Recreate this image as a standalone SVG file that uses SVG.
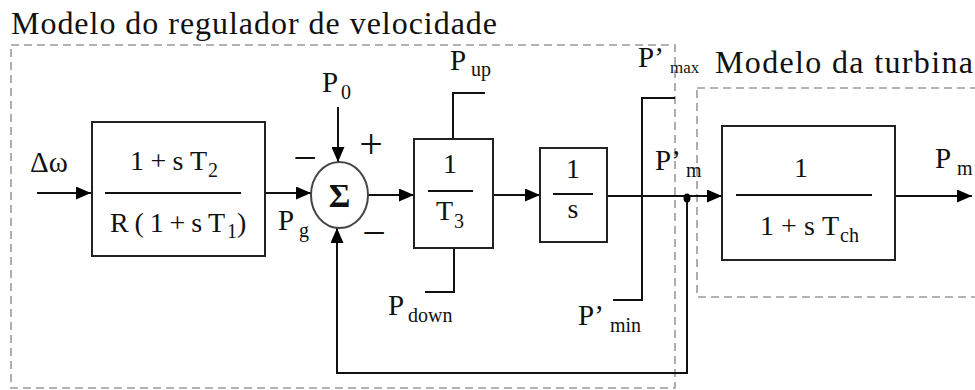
<svg xmlns="http://www.w3.org/2000/svg" width="975" height="390" viewBox="0 0 975 390">
<defs>
<marker id="arr" viewBox="0 0 15 13" markerWidth="15" markerHeight="13" refX="15" refY="6.5" orient="auto" markerUnits="userSpaceOnUse">
<path d="M0,0 L15,6.5 L0,13 z" fill="#000"/>
</marker>
</defs>
<rect width="975" height="390" fill="#fff"/>

<g id="regions" fill="none" stroke="#9a9a9a" stroke-width="1.6" stroke-dasharray="8 5">
<rect x="11" y="45" width="664" height="343"/>
<rect x="697" y="88" width="290" height="209"/>
</g>
<g id="titles" font-family="Liberation Serif" fill="#111">
<text x="11" y="34" font-size="32" textLength="486" lengthAdjust="spacing">Modelo do regulador de velocidade</text>
<text x="715" y="73" font-size="32" textLength="258" lengthAdjust="spacing">Modelo da turbina</text>
</g>

<g id="connectors" fill="none" stroke="#111" stroke-width="2">
<path d="M37,193 H91" marker-end="url(#arr)"/>
<path d="M265,193 H311" marker-end="url(#arr)"/>
<path d="M338,107 V162" marker-end="url(#arr)"/>
<path d="M368,195 H414" marker-end="url(#arr)"/>
<path d="M493,195 H540" marker-end="url(#arr)"/>
<path d="M607,196 H722" marker-end="url(#arr)"/>
<path d="M687,197 V373 H337 V228" marker-end="url(#arr)"/>
<path d="M895,196 H972" marker-end="url(#arr)"/>
<path d="M453,139 V93 H485"/>
<path d="M454,248 V292 H425"/>
<path d="M675,98 H642 V300 H613"/>
<ellipse cx="687" cy="198" rx="3.5" ry="4.5" fill="#000" stroke="none"/>
</g>

<g id="input-label" font-family="Liberation Serif" fill="#111">
<text x="30" y="172" font-size="29">Δω</text>
</g>

<g id="governor" font-family="Liberation Serif" fill="#111">
<rect x="92" y="122" width="173" height="134" fill="#fff" stroke="#222" stroke-width="2"/>
<line x1="105" y1="193" x2="241" y2="193" stroke="#111" stroke-width="2"/>
<text font-size="28"><tspan x="130" y="170" textLength="77" lengthAdjust="spacing">1+sT</tspan><tspan x="208" y="177" font-size="20">2</tspan></text>
<text font-size="28"><tspan x="110" y="232" textLength="115" lengthAdjust="spacing">R(1+sT</tspan><tspan x="227" y="238" font-size="20">1</tspan><tspan x="237" y="232">)</tspan></text>
</g>

<g id="pg-label" font-family="Liberation Serif" fill="#111">
<text font-size="29"><tspan x="278" y="230">P</tspan><tspan x="299" y="237" font-size="20">g</tspan></text>
</g>

<g id="sum" font-family="Liberation Serif" fill="#111">
<ellipse cx="339.5" cy="195" rx="28.5" ry="33" fill="#fff" stroke="#444" stroke-width="2"/>
<text x="339.5" y="207" text-anchor="middle" font-size="33" font-weight="bold">Σ</text>
<text x="305" y="172" text-anchor="middle" font-size="42">−</text>
<text x="371" y="158" text-anchor="middle" font-size="42">+</text>
<text x="374" y="247" text-anchor="middle" font-size="42">−</text>
</g>

<g id="p0-label" font-family="Liberation Serif" fill="#111">
<text font-size="29"><tspan x="322" y="92">P</tspan><tspan x="341" y="99" font-size="20">0</tspan></text>
</g>

<g id="gain-t3" font-family="Liberation Serif" fill="#111">
<rect x="414" y="139" width="79" height="109" fill="#fff" stroke="#222" stroke-width="2"/>
<line x1="428" y1="191" x2="473" y2="191" stroke="#111" stroke-width="2"/>
<text x="450" y="173" text-anchor="middle" font-size="28">1</text>
<text font-size="28"><tspan x="436" y="220">T</tspan><tspan x="454" y="228" font-size="20">3</tspan></text>
</g>

<g id="pup-label" font-family="Liberation Serif" fill="#111">
<text font-size="29"><tspan x="450" y="70">P</tspan><tspan x="471" y="76" font-size="20">up</tspan></text>
</g>

<g id="pdown-label" font-family="Liberation Serif" fill="#111">
<text font-size="29"><tspan x="388" y="315">P</tspan><tspan x="408" y="322" font-size="20">down</tspan></text>
</g>

<g id="integrator" font-family="Liberation Serif" fill="#111">
<rect x="540" y="148" width="67" height="94" fill="#fff" stroke="#222" stroke-width="2"/>
<line x1="553" y1="194" x2="593" y2="194" stroke="#111" stroke-width="2"/>
<text x="573" y="178" text-anchor="middle" font-size="28">1</text>
<text x="573" y="218" text-anchor="middle" font-size="28">s</text>
</g>

<g id="pmax-label" font-family="Liberation Serif" fill="#111">
<text font-size="29"><tspan x="638" y="67">P’</tspan><tspan x="670" y="73" font-size="17">max</tspan></text>
</g>

<g id="pmin-label" font-family="Liberation Serif" fill="#111">
<text font-size="29"><tspan x="578" y="325">P’</tspan><tspan x="610" y="332" font-size="20">min</tspan></text>
</g>

<g id="pm-prime-label" font-family="Liberation Serif" fill="#111">
<text font-size="29"><tspan x="655" y="170">P’</tspan><tspan x="686" y="177" font-size="20">m</tspan></text>
</g>

<g id="turbine" font-family="Liberation Serif" fill="#111">
<rect x="722" y="126" width="173" height="134" fill="#fff" stroke="#222" stroke-width="2"/>
<line x1="736" y1="195" x2="872" y2="195" stroke="#111" stroke-width="2"/>
<text x="801" y="177" text-anchor="middle" font-size="28">1</text>
<text font-size="28"><tspan x="760" y="235" textLength="79" lengthAdjust="spacing">1+sT</tspan><tspan x="840" y="242" font-size="20">ch</tspan></text>
</g>

<g id="pm-label" font-family="Liberation Serif" fill="#111">
<text font-size="29"><tspan x="935" y="168">P</tspan><tspan x="957" y="175" font-size="20">m</tspan></text>
</g>
</svg>
